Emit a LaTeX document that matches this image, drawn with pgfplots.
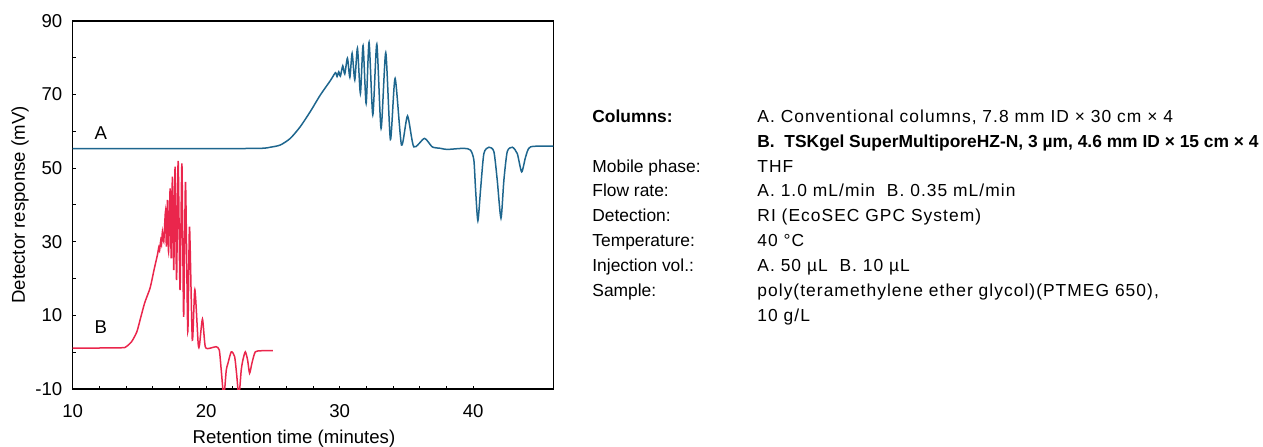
\documentclass[border=0pt]{standalone}
\usepackage{pgfplots}
\pgfplotsset{compat=1.18}
\usepackage{fontspec}
\setmainfont{Liberation Sans}
\newfontfamily\rcol[LetterSpace=6]{Liberation Sans}
\definecolor{curveA}{RGB}{30,102,142}
\definecolor{curveB}{RGB}{234,38,76}
\pgfplotstableread{
t v
10 55.3
20 55.3
24.05 55.4
24.8 55.7
25.55 56.3
26.3 58.1
27.05 61.3
27.8 65.4
28.55 69.9
29.3 73.8
29.68 75.95
29.80 74.9
29.93 76.2
30.05 75.0
30.23 77.8
30.38 75.6
30.58 79.9
30.76 74.7
30.93 81.2
31.13 74.0
31.33 82.6
31.55 70.3
31.75 83.3
31.98 67.6
32.20 84.2
32.48 64.5
32.78 83.7
33.10 60.8
33.45 81.4
33.80 57.8
34.15 74.4
34.63 56.3
35.08 64.2
35.55 55.8
36.35 58.1
36.93 55.8
37.55 55.4
38.05 55.1
39.3 55.4
39.8 54.9
40.05 52.2
40.18 44.1
40.35 35.7
40.55 44.1
40.8 54.0
41.18 55.7
41.55 54.5
41.8 46.8
42.08 36.4
42.3 46.8
42.55 54.5
42.93 55.7
43.3 54.0
43.63 49.0
43.93 53.1
44.3 55.8
46.0 56.0
}\tableA
\pgfplotstableread{
t v
10 1.1
13.6 1.2
14.0 1.5
14.4 2.8
14.8 5.5
15.1 9.5
15.4 13.5
15.8 17.5
16.1 22.5
16.35 26.5
16.45 28.5
16.5 27.5
16.6 30.5
16.65 29.2
16.72 32.7
16.82 30.0
16.95 38.2
17.02 28.7
17.10 41.4
17.18 27.3
17.30 44.5
17.38 25.5
17.47 47.7
17.57 22.3
17.67 50.4
17.78 19.6
17.90 52.0
18.04 16.9
18.18 51.3
18.31 9.6
18.45 46.3
18.62 5.6
18.75 34.1
18.96 3.3
19.15 17.0
19.40 2.3
19.50 2.0
19.72 9.0
19.93 1.5
20.30 1.1
20.73 1.5
20.98 0.6
21.13 -5
21.32 -12
21.50 -5
21.63 -3.0
21.88 0.1
22.13 -1.2
22.28 -6
22.45 -12
22.62 -5
22.75 -2.1
22.93 0.1
23.10 -2.1
23.25 -5.7
23.43 -2.9
23.68 0.1
24.18 0.4
25.0 0.4
}\tableB
\begin{document}
\begin{tikzpicture}
\useasboundingbox (-36.35pt,-28.5pt) rectangle (595.15pt,194.5pt);
\begin{axis}[
  at={(0,0)}, anchor=south west,
  scale only axis, width=240.3pt, height=184pt,
  xmin=10, xmax=46, ymin=-10, ymax=90,
  xtick={10,20,30,40}, xticklabels={\raisebox{-2.5pt}{10},20,30,40},
  minor x tick num=4,
  ytick={-10,10,...,90}, minor y tick num=1,
  tick pos=left, tick align=inside,
  major tick length=1.6pt, minor tick length=1.6pt,
  axis line style={line width=0.7pt},
  every tick/.style={black, line width=0.5pt},
  /pgf/number format/assume math mode=true,
  tick label style={font=\fontsize{9.3}{11}\selectfont},
  xticklabel style={yshift=-4pt},
  yticklabel style={xshift=-1.7pt},
  xlabel={Retention time (minutes)},
  ylabel={Detector response (mV)},
  label style={font=\fontsize{9.3}{11}\selectfont},
  xlabel style={at={(axis description cs:0.4604,-0.135)}, anchor=center},
  ylabel style={at={(axis description cs:-0.1097,0.5)}, anchor=center, rotate=0},
  clip=true,
]
\addplot[curveA, line width=0.75pt, smooth, tension=0.4] table[x=t,y=v] {\tableA};
\addplot[curveB, line width=0.75pt, smooth, tension=0.4] table[x=t,y=v] {\tableB};
\node[font=\fontsize{9.3}{11}\selectfont] at (axis cs:12.1,59.6) {A};
\node[font=\fontsize{9.3}{11}\selectfont] at (axis cs:12.1,6.8) {B};
\end{axis}
\begin{scope}[every node/.style={anchor=base west, inner sep=0pt, font=\fontsize{8.7}{10}\selectfont}]
\def\lx{259.65pt}
\def\rx{342.15pt}
\node at (\lx,133.4pt) {\textbf{Columns:}};
\node at (\rx,133.4pt) {\rcol A. Conventional columns, 7.8 mm ID × 30 cm × 4};
\node at (\rx,120.95pt) {\textbf{B.\ \ TSKgel SuperMultiporeHZ-N, 3 µm, 4.6 mm ID × 15 cm × 4}};
\node at (\lx,108.5pt) {Mobile phase:};
\node at (\rx,108.5pt) {\rcol THF};
\node at (\lx,96.05pt) {Flow rate:};
\node at (\rx,96.05pt) {\rcol A. 1.0 mL/min\ \ B. 0.35 mL/min};
\node at (\lx,83.6pt) {Detection:};
\node at (\rx,83.6pt) {\rcol RI (EcoSEC GPC System)};
\node at (\lx,71.15pt) {Temperature:};
\node at (\rx,71.15pt) {\rcol 40 °C};
\node at (\lx,58.7pt) {Injection vol.:};
\node at (\rx,58.7pt) {\rcol A. 50 µL\ \ B. 10 µL};
\node at (\lx,46.25pt) {Sample:};
\node at (\rx,46.25pt) {\rcol poly(teramethylene ether glycol)(PTMEG 650),};
\node at (\rx,33.8pt) {\rcol 10 g/L};
\end{scope}
\end{tikzpicture}
\end{document}
